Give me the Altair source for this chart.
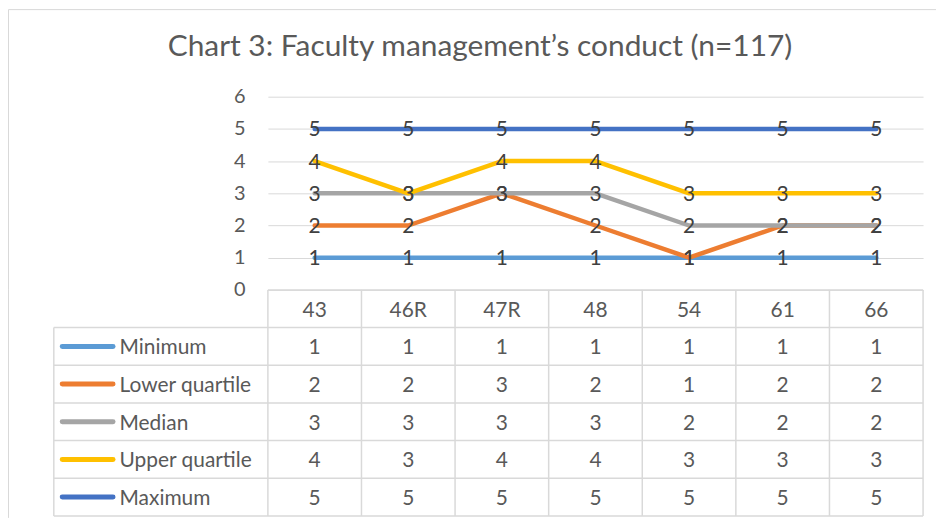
import altair as alt
import pandas as pd

# ---------------- data ----------------
categories = ["43", "46R", "47R", "48", "54", "61", "66"]
series_names = ["Minimum", "Lower quartile", "Median", "Upper quartile", "Maximum"]
minimum = [1, 1, 1, 1, 1, 1, 1]
lower_quartile = [2, 2, 3, 2, 1, 2, 2]
median = [3, 3, 3, 3, 2, 2, 2]
upper_quartile = [4, 3, 4, 4, 3, 3, 3]
maximum = [5, 5, 5, 5, 5, 5, 5]
series_colors = ["#5B9BD5", "#ED7D31", "#A5A5A5", "#FFC000", "#4472C4"]
title_text = "Chart 3: Faculty management\u2019s conduct (n=117)"
y_ticks = [0, 1, 2, 3, 4, 5, 6]

values = [minimum, lower_quartile, median, upper_quartile, maximum]

rows = []
for si, (name, vals) in enumerate(zip(series_names, values)):
    for ci, (cat, v) in enumerate(zip(categories, vals)):
        rows.append({"series": name, "row": si + 1, "category": cat,
                     "col": ci, "value": v})
df = pd.DataFrame(rows)
cat_df = pd.DataFrame({"category": categories, "col": list(range(len(categories)))})
ser_df = pd.DataFrame({"series": series_names, "row": list(range(1, len(series_names) + 1))})
hline_df = pd.DataFrame({"k": list(range(1, len(series_names) + 2))})
vline_df = pd.DataFrame({"j": list(range(0, len(categories) + 1))})
one_df = pd.DataFrame({"t": [title_text]})

# ---------------- style ----------------
W, H_TOP, H_TAB = 658, 194, 227
FONT = "Lato"
TXT = "#595959"
LBL = "#404040"
GRID = "#D9D9D9"
FS = 20
FS_TAB = 21

color_scale = alt.Scale(domain=series_names, range=series_colors)

# ---------------- top: line chart ----------------
x_top = alt.X("category:N", sort=categories,
              scale=alt.Scale(type="point", padding=0.5), axis=None)
y_top = alt.Y("value:Q", scale=alt.Scale(domain=[0, 6], nice=False),
              axis=alt.Axis(values=y_ticks, grid=True, gridColor=GRID, gridWidth=1,
                            domain=False, ticks=False, labelFont=FONT,
                            labelFontSize=FS, labelColor=TXT, labelPadding=23,
                            title=None))

layers = []
for name in series_names:
    layers.append(
        alt.Chart(df).transform_filter(alt.datum.series == name)
        .mark_line(strokeWidth=4.5, strokeJoin="round", strokeCap="round")
        .encode(x=x_top, y=y_top,
                color=alt.Color("series:N", scale=color_scale, legend=None))
    )

labels = alt.Chart(df).mark_text(font=FONT, fontSize=FS_TAB, color=LBL,
                                 align="center", baseline="middle", dy=1.5).encode(
    x=x_top, y=y_top, text="value:Q")

title = alt.Chart(one_df).mark_text(font=FONT, fontSize=30, color=TXT,
                                    align="center", baseline="alphabetic").encode(
    x=alt.value(213), y=alt.value(-41), text="t:N")

frame_top = alt.Chart(one_df).mark_rule(color=GRID, strokeWidth=1).encode(
    x=alt.value(-260.5), x2=alt.value(671), y=alt.value(-87.5))
frame_left1 = alt.Chart(one_df).mark_rule(color=GRID, strokeWidth=1).encode(
    x=alt.value(-260.5), y=alt.value(-87.5), y2=alt.value(H_TOP))

top = alt.layer(frame_top, frame_left1, *layers, labels, title).properties(
    width=W, height=H_TOP)

# ---------------- bottom: data table ----------------
xs = alt.Scale(domain=[0, 7], nice=False, zero=False)
ys = alt.Scale(domain=[0, 6], nice=False, zero=False, reverse=True)

def X(field):
    return alt.X(field, type="quantitative", scale=xs, axis=None)

def Y(field):
    return alt.Y(field, type="quantitative", scale=ys, axis=None)

hlines = alt.Chart(hline_df).mark_rule(color=GRID, strokeWidth=1.5).encode(
    x=alt.value(-215), x2=alt.value(W), y=Y("k"))
header_top = alt.Chart(one_df).mark_rule(color=GRID, strokeWidth=1.5).encode(
    x=alt.value(0), x2=alt.value(W), y=alt.Y(datum=0, scale=ys, axis=None))
vlines = alt.Chart(vline_df).mark_rule(color=GRID, strokeWidth=1.5).encode(
    x=X("j"), y=alt.Y(datum=0, scale=ys, axis=None), y2=alt.Y2(datum=6))
legend_left = alt.Chart(one_df).mark_rule(color=GRID, strokeWidth=1.5).encode(
    x=alt.value(-215), y=alt.Y(datum=1, scale=ys, axis=None), y2=alt.Y2(datum=6))
frame_left2 = alt.Chart(one_df).mark_rule(color=GRID, strokeWidth=1).encode(
    x=alt.value(-260.5), y=alt.value(0), y2=alt.value(229))

header_txt = alt.Chart(cat_df).transform_calculate(
    xc="datum.col + 0.5", yc="0.5").mark_text(
    font=FONT, fontSize=FS_TAB, color=TXT, align="center", baseline="middle",
    dy=2).encode(
    x=X("xc"), y=Y("yc"), text="category:N")

cell_txt = alt.Chart(df).transform_calculate(
    xc="datum.col + 0.5", yc="datum.row + 0.5").mark_text(
    font=FONT, fontSize=FS_TAB, color=TXT, align="center", baseline="middle",
    dy=2).encode(
    x=X("xc"), y=Y("yc"), text="value:Q")

swatch = alt.Chart(ser_df).transform_calculate(yc="datum.row + 0.5").mark_rule(
    strokeWidth=5, strokeCap="round").encode(
    x=alt.value(-206.5), x2=alt.value(-155.5), y=Y("yc"),
    color=alt.Color("series:N", scale=color_scale, legend=None))

legend_txt = alt.Chart(ser_df).transform_calculate(yc="datum.row + 0.5").mark_text(
    font=FONT, fontSize=FS_TAB, color=TXT, align="left", baseline="middle",
    dy=2).encode(
    x=alt.value(-149), y=Y("yc"), text="series:N")

bottom = alt.layer(hlines, header_top, vlines, legend_left, frame_left2,
                   header_txt, cell_txt, swatch, legend_txt).properties(
    width=W, height=H_TAB)

chart = alt.vconcat(top, bottom, spacing=0, bounds="flush").properties(
    padding=0, background="white"
).configure_view(stroke=None)

chart.save("out.html", embed_options={"renderer": "svg", "actions": False})
